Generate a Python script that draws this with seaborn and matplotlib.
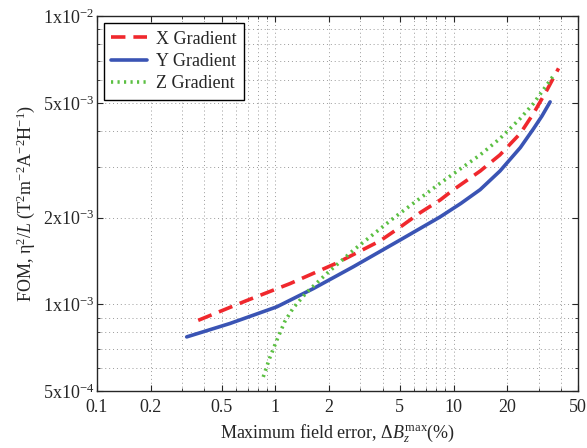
import pandas as pd
import matplotlib
matplotlib.use("Agg")
import matplotlib.pyplot as plt
import matplotlib.ticker as mticker
import seaborn as sns


# ---------------------------------
# DATA
# ---------------------------------

x_grad_err = [0.37, 0.69, 1.21, 2.21, 3.87, 5.0, 6.5, 8.4, 10.0, 14.1, 18.2, 23.7, 28.1, 33.4, 38.8]
x_grad_fom = [8.8e-4, 1.03e-3, 1.18e-3, 1.39e-3, 1.66e-3, 1.85e-3, 2.08e-3, 2.3e-3,
              2.5e-3, 2.9e-3, 3.3e-3, 3.92e-3, 4.6e-3, 5.54e-3, 6.59e-3]

y_grad_err = [0.319, 0.557, 1.02, 1.64, 2.74, 5.0, 8.4, 11.0, 14.1, 18.2, 23.7, 28.1, 31.3, 34.8]
y_grad_fom = [7.71e-4, 8.58e-4, 9.8e-4, 1.135e-3, 1.35e-3, 1.67e-3, 2.01e-3, 2.24e-3,
              2.5e-3, 2.9e-3, 3.5e-3, 4.07e-3, 4.5e-3, 5.04e-3]

z_grad_err = [0.857, 0.93, 1.02, 1.13, 1.26, 1.5, 1.95, 2.74, 4.6, 8.4, 14.1, 18.2, 23.7, 28.1, 31.8, 37.1]
z_grad_fom = [5.6e-4, 6.5e-4, 7.5e-4, 8.7e-4, 9.7e-4, 1.1e-3, 1.28e-3, 1.54e-3, 1.99e-3,
              2.63e-3, 3.3e-3, 3.76e-3, 4.42e-3, 4.98e-3, 5.54e-3, 6.33e-3]

series_names = ["X Gradient", "Y Gradient", "Z Gradient"]

x_ticks = [0.1, 0.2, 0.5, 1, 2, 5, 10, 20, 50]
x_tick_labels = ["0.1", "0.2", "0.5", "1", "2", "5", "10", "20", "50"]
y_ticks = [5e-4, 1e-3, 2e-3, 5e-3, 1e-2]
y_tick_labels = ["5x10$^{-4}$", "1x10$^{-3}$", "2x10$^{-3}$", "5x10$^{-3}$", "1x10$^{-2}$"]


# ---------------------------------
# STYLE
# ---------------------------------

sns.set_style("ticks")
plt.rcParams["font.family"] = ["Liberation Serif", "DejaVu Serif"]
plt.rcParams["mathtext.fontset"] = "custom"
plt.rcParams["mathtext.rm"] = "Liberation Serif"
plt.rcParams["mathtext.it"] = "Liberation Serif:italic"
plt.rcParams["mathtext.bf"] = "Liberation Serif:bold"
plt.rcParams["font.size"] = 13


df = pd.concat([
    pd.DataFrame({"err": x_grad_err, "fom": x_grad_fom, "series": series_names[0]}),
    pd.DataFrame({"err": y_grad_err, "fom": y_grad_fom, "series": series_names[1]}),
    pd.DataFrame({"err": z_grad_err, "fom": z_grad_fom, "series": series_names[2]}),
])

palette = {"X Gradient": "#f0282d", "Y Gradient": "#3a54b4", "Z Gradient": "#5cc043"}
dashes = {"X Gradient": (4, 2.2), "Y Gradient": "", "Z Gradient": (0.6, 1.2)}


# ---------------------------------
# PLOT
# ---------------------------------

fig = plt.figure(figsize=(5.87, 4.48), dpi=100)
ax = fig.add_axes([0.165, 0.127, 0.82, 0.837])

sns.lineplot(data=df, x="err", y="fom", hue="series", style="series",
             palette=palette, dashes=dashes, sort=False, linewidth=2.6,
             estimator=None, ax=ax)

ax.set_xscale("log")
ax.set_yscale("log")
ax.set_xlim(0.1, 50)
ax.set_ylim(5e-4, 1e-2)

ax.set_xticks(x_ticks)
ax.set_xticklabels(x_tick_labels)
ax.set_yticks(y_ticks)
ax.set_yticklabels(y_tick_labels)
ax.xaxis.set_minor_locator(mticker.LogLocator(base=10, subs=range(1, 10)))
ax.yaxis.set_minor_locator(mticker.LogLocator(base=10, subs=range(1, 10)))
ax.xaxis.set_minor_formatter(mticker.NullFormatter())
ax.yaxis.set_minor_formatter(mticker.NullFormatter())

ax.tick_params(which="both", direction="in", top=True, right=True, labelsize=13)
ax.tick_params(which="major", length=4)
ax.tick_params(which="minor", length=2.5)
ax.tick_params(axis="x", which="major", pad=6)
ax.tick_params(axis="y", which="major", pad=2)

ax.grid(True, which="both", linestyle=(0, (1, 3)), color="#9a9a9a", linewidth=0.7)
for sp in ax.spines.values():
    sp.set_linewidth(1.0)

ax.set_xlabel("Maximum field error, $\\Delta B_z^{\\rm max}$(%)", fontsize=13)
ax.set_ylabel("FOM, \u03b7$^2$/$L$ (T$^2$m$^{-2}$A$^{-2}$H$^{-1}$)", fontsize=13)

leg = ax.legend(loc="upper left", frameon=True, fancybox=False, fontsize=13,
                handlelength=2.0, borderpad=0.4, labelspacing=0.3,
                handletextpad=0.5, borderaxespad=0.4)
leg.get_frame().set_edgecolor("black")
leg.get_frame().set_linewidth(1.0)
leg.get_frame().set_alpha(1.0)

fig.savefig("out.png", dpi=100)
